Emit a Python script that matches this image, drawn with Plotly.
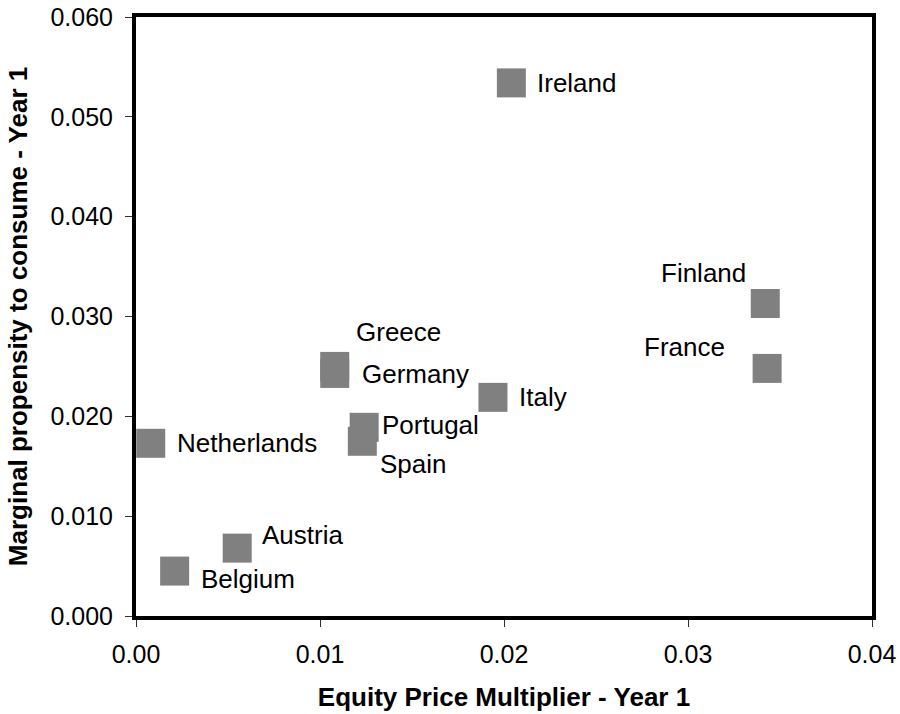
import plotly.graph_objects as go

countries = ["Ireland", "Finland", "France", "Greece", "Germany", "Italy",
             "Portugal", "Spain", "Netherlands", "Austria", "Belgium"]
equity_multiplier = [0.0204, 0.0342, 0.0343, 0.0108, 0.0108, 0.0194,
                     0.0124, 0.0123, 0.0008, 0.0055, 0.0021]
mpc_year1 = [0.0534, 0.0313, 0.0248, 0.0250, 0.0243, 0.0219,
             0.0189, 0.0175, 0.0173, 0.0068, 0.0045]

x_ticks = [0.00, 0.01, 0.02, 0.03, 0.04]
x_ticktext = ["0.00", "0.01", "0.02", "0.03", "0.04"]
y_ticks = [0.000, 0.010, 0.020, 0.030, 0.040, 0.050, 0.060]
y_ticktext = ["0.000", "0.010", "0.020", "0.030", "0.040", "0.050", "0.060"]

# label placement (style): anchor side, pixel shift x, pixel shift y (screen, down positive)
label_style = {
    "Ireland": ("left", 24, 0),
    "Finland": ("right", -17, -31),
    "France": ("right", -40, -21),
    "Greece": ("left", 19, -34),
    "Germany": ("left", 25, 1),
    "Italy": ("left", 24, 0),
    "Portugal": ("left", 16, -2),
    "Spain": ("left", 16, 23),
    "Netherlands": ("left", 24, 0),
    "Austria": ("left", 23, -13),
    "Belgium": ("left", 24, 8),
}

FONT = "Liberation Sans, Arial, sans-serif"

fig = go.Figure()
fig.add_trace(go.Scatter(
    x=equity_multiplier, y=mpc_year1, mode="markers",
    marker=dict(symbol="square", size=29, color="#808080", line=dict(width=0)),
    hoverinfo="skip", showlegend=False,
))

annotations = []
for name, xv, yv in zip(countries, equity_multiplier, mpc_year1):
    side, dx, dy = label_style[name]
    annotations.append(dict(
        x=xv, y=yv, xref="x", yref="y", text=name, showarrow=False,
        xanchor=side, yanchor="middle", xshift=dx, yshift=-dy,
        font=dict(family=FONT, size=26, color="black"),
    ))

axis_common = dict(
    showgrid=False, zeroline=False, showline=True, linecolor="black",
    linewidth=4, mirror=True, ticks="outside", ticklen=7, tickwidth=1,
    tickcolor="#333333", tickfont=dict(family=FONT, size=25, color="black"),
    automargin=False,
)

fig.update_layout(
    width=900, height=714,
    margin=dict(l=136, r=28, t=17, b=98),
    paper_bgcolor="white", plot_bgcolor="white",
    annotations=annotations,
    xaxis=dict(range=[0, 0.04], tickvals=x_ticks, ticktext=x_ticktext,
               ticklabelstandoff=6,
               title=dict(text="<b>Equity Price Multiplier - Year 1</b>",
                          font=dict(family=FONT, size=26, color="black"),
                          standoff=22),
               **axis_common),
    yaxis=dict(range=[0, 0.060], tickvals=y_ticks, ticktext=y_ticktext,
               ticklabelstandoff=7,
               title=dict(text="<b>Marginal propensity to consume - Year 1</b>",
                          font=dict(family=FONT, size=26, color="black"),
                          standoff=16),
               **axis_common),
)

fig.write_html("out.html", config={"displayModeBar": False},
               post_script="document.body.style.margin='0';document.body.style.overflow='hidden';")
